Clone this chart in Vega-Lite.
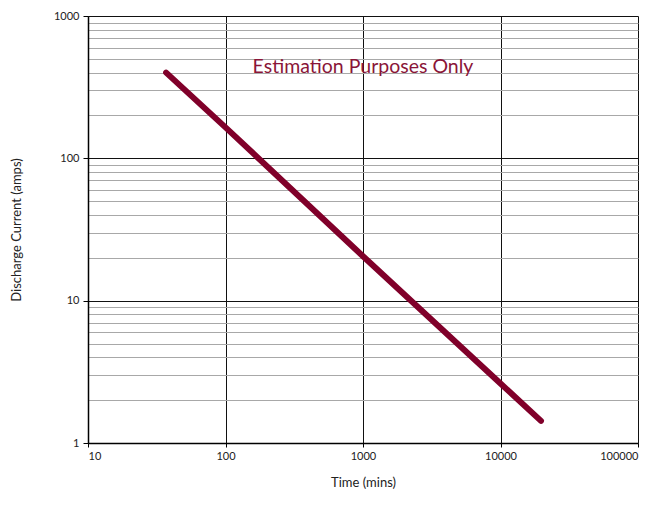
{
  "$schema": "https://vega.github.io/schema/vega-lite/v6.json",
  "width": 550,
  "height": 427,
  "autosize": {"type": "none"},
  "padding": {"left": 88, "top": 16, "right": 24, "bottom": 78},
  "background": "white",
  "config": {
    "view": {"stroke": null},
    "axis": {"labelFont": "Lato", "titleFont": "Lato", "labelColor": "#222", "titleColor": "#222", "titleFontWeight": "normal", "labelFontSize": 11, "titleFontSize": 13}
  },
  "datasets": {
    "curve": [
      {"time": 37, "current": 400},
      {"time": 100, "current": 165},
      {"time": 1000, "current": 20.5},
      {"time": 10000, "current": 2.62},
      {"time": 19700, "current": 1.43}
    ],
    "note": [
      {"time": 1000, "current": 440, "label": "Estimation Purposes Only"}
    ]
  },
  "layer": [
    {
      "data": {"name": "curve"},
      "mark": {"type": "line", "color": "#80002a", "strokeWidth": 6, "strokeCap": "round", "strokeJoin": "round"},
      "encoding": {
        "x": {
          "field": "time", "type": "quantitative",
          "scale": {"type": "log", "domain": [10, 100000], "nice": false},
          "axis": {
            "title": "Time (mins)",
            "values": [10, 100, 1000, 10000, 100000],
            "format": "d",
            "grid": true, "gridColor": "#111", "gridWidth": 1, "gridOpacity": 1,
            "domainColor": "#000", "domainWidth": 1.5,
            "tickColor": "#000", "tickSize": 4,
            "labelPadding": 3,
            "titlePadding": 15
          }
        },
        "y": {
          "field": "current", "type": "quantitative",
          "scale": {"type": "log", "domain": [1, 1000], "nice": false},
          "axis": {
            "title": "Discharge Current (amps)",
            "values": [1,2,3,4,5,6,7,8,9,10,20,30,40,50,60,70,80,90,100,200,300,400,500,600,700,800,900,1000],
            "labelExpr": "indexof([1,10,100,1000], datum.value) >= 0 ? datum.label : ''",
            "format": "d",
            "grid": true,
            "gridColor": {"condition": {"test": "indexof([1,10,100,1000], datum.value) >= 0", "value": "#111"}, "value": "#a8a8a8"},
            "gridWidth": 1, "gridOpacity": 1,
            "tickColor": {"condition": {"test": "indexof([1,10,100,1000], datum.value) >= 0", "value": "#000"}, "value": "transparent"},
            "tickSize": 5,
            "domainColor": "#000", "domainWidth": 1.5,
            "labelPadding": 4,
            "titlePadding": 30
          }
        }
      }
    },
    {
      "data": {"name": "note"},
      "mark": {"type": "text", "color": "#8a1538", "font": "Lato", "fontSize": 19.5, "align": "center", "baseline": "middle"},
      "encoding": {
        "x": {"field": "time", "type": "quantitative"},
        "y": {"field": "current", "type": "quantitative"},
        "text": {"field": "label"}
      }
    }
  ]
}
